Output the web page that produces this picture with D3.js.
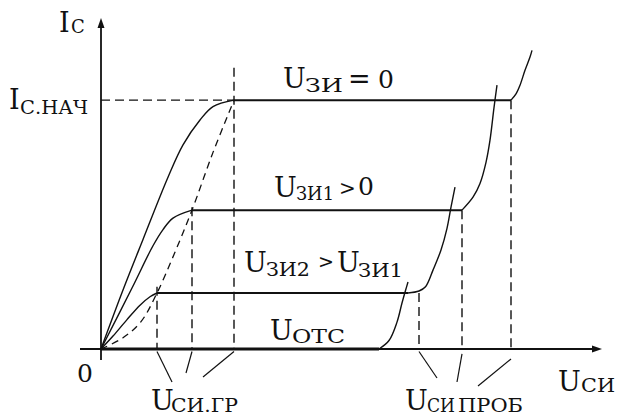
<!DOCTYPE html>
<html>
<head>
<meta charset="utf-8">
<script src="https://cdn.jsdelivr.net/npm/d3@7"></script>
<style>
  html, body { margin: 0; padding: 0; background: #fff; }
  svg { display: block; }
</style>
</head>
<body>
<svg id="chart" width="619" height="419"></svg>
<script>
// Output characteristics of a junction FET: I_C versus U_СИ for several gate voltages.
// Points are [U_СИ, I_С] in relative units (I_С.НАЧ = 100).

// Saturation currents for U_ЗИ = 0, U_ЗИ1 > 0, U_ЗИ2 > U_ЗИ1
const satLevels = [100, 55.8, 22.5];
// Saturation voltages U_СИ.ГР (knee of each curve)
const kneeU = [26.6, 18.2, 11.2];
// Breakdown voltages U_СИ.ПРОБ
const breakU = [82, 72.2, 63.6];

// Ohmic parts, origin to knee
const riseTop = [[0, 0], [4.4, 23.7], [8.4, 44], [13.4, 69], [16.4, 82], [19.8, 92], [22.4, 97.4], [26.6, 100]];
const riseMid = [[0, 0], [6.2, 24.5], [10.4, 41.5], [12.4, 48], [14.4, 52.6], [18.2, 55.8]];
const riseLow = [[0, 0], [2.4, 5.2], [5.2, 11.8], [7.8, 17.6], [9.8, 21], [11.2, 22.5]];
// Breakdown parts, from U_СИ.ПРОБ upward
const breakTop = [[82, 100], [83, 102.5], [83.8, 106], [84.8, 112], [85.8, 117.3], [86.2, 120]];
const breakMid = [[72.2, 55.8], [74.4, 61], [75.8, 66.5], [77, 75], [77.8, 83.9], [78.6, 97], [79.2, 106]];
const breakLow = [[61.4, 22.5], [63.6, 23.3], [64.9, 25], [66.4, 31.7], [68, 39.8], [69.2, 48.5], [70, 57], [70.8, 65]];
// Cut-off curve (U_ЗИ = U_ОТС): zero current, then breakdown
const breakOff = [[55.6, 0], [57.6, 3.4], [59.2, 10.8], [60.2, 18.5], [60.9, 23.5], [61.4, 26.9]];
// Boundary of the saturation region through the knees
const boundary = [[0, 0], [4.4, 4.5], [8, 11], [11.2, 22.5], [14.6, 38], [18.2, 55.8], [22.4, 79], [26.6, 100]];

const svg = d3.select("#chart");
const x = d3.scaleLinear().domain([0, 100]).range([101, 601]);
const y = d3.scaleLinear().domain([0, 133]).range([349, 18]);

const ink = "#111";
const dash = "9,5";
const serif = "DejaVu Serif";

const smooth = d3.line().x(d => x(d[0])).y(d => y(d[1])).curve(d3.curveCatmullRom.alpha(0.5));

// Axes
svg.append("line").attr("x1", x(-4.2)).attr("x2", x(99)).attr("y1", y(0)).attr("y2", y(0))
  .attr("stroke", ink).attr("stroke-width", 1.8);
svg.append("line").attr("x1", x(0)).attr("x2", x(0)).attr("y1", y(-4.4)).attr("y2", y(130))
  .attr("stroke", ink).attr("stroke-width", 1.8);
// Arrowheads
svg.append("path")
  .attr("d", `M${x(100.2)},${y(0)} L${x(100.2) - 10},${y(0) - 3.5} L${x(100.2) - 10},${y(0) + 3.5} Z`)
  .attr("fill", ink);
svg.append("path")
  .attr("d", `M${x(0)},${y(133)} L${x(0) - 3.5},${y(133) + 10} L${x(0) + 3.5},${y(133) + 10} Z`)
  .attr("fill", ink);

// I_C.НАЧ dashed level
svg.append("line").attr("x1", x(0)).attr("x2", x(kneeU[0])).attr("y1", y(satLevels[0])).attr("y2", y(satLevels[0]))
  .attr("stroke", ink).attr("stroke-width", 1.4).attr("stroke-dasharray", dash);

// Dashed verticals at U_СИ.ГР
const grTops = [113, 57, 25];
kneeU.forEach((u, i) => {
  svg.append("line").attr("x1", x(u)).attr("x2", x(u)).attr("y1", y(grTops[i])).attr("y2", y(0))
    .attr("stroke", ink).attr("stroke-width", 1.4).attr("stroke-dasharray", dash);
});
// Dashed verticals at U_СИ.ПРОБ
breakU.forEach((u, i) => {
  svg.append("line").attr("x1", x(u)).attr("x2", x(u)).attr("y1", y(satLevels[i])).attr("y2", y(0))
    .attr("stroke", ink).attr("stroke-width", 1.4).attr("stroke-dasharray", dash);
});

// Saturation boundary
svg.append("path").attr("d", smooth(boundary)).attr("fill", "none")
  .attr("stroke", ink).attr("stroke-width", 1.3).attr("stroke-dasharray", "7,5");

// Ohmic and breakdown parts of each characteristic
[riseTop, riseMid, riseLow, breakTop, breakMid, breakLow, breakOff].forEach(c => {
  svg.append("path").attr("d", smooth(c)).attr("fill", "none")
    .attr("stroke", ink).attr("stroke-width", 1.4);
});
// Saturation plateaus
const plateauEnd = [breakTop[0][0], breakMid[0][0], breakLow[0][0]];
satLevels.forEach((lv, i) => {
  svg.append("line").attr("x1", x(kneeU[i])).attr("x2", x(plateauEnd[i])).attr("y1", y(lv)).attr("y2", y(lv))
    .attr("stroke", ink).attr("stroke-width", 2);
});
// Cut-off current runs along the axis
svg.append("line").attr("x1", x(0)).attr("x2", x(breakOff[0][0])).attr("y1", y(0)).attr("y2", y(0))
  .attr("stroke", ink).attr("stroke-width", 3.2);

// Leader lines from the voltage marks to their labels
const leaders = [
  [[kneeU[2], -1], [172, 382]], [[kneeU[1], -1], [186, 373]], [[kneeU[0], -1], [203, 377]],
  [[breakU[2], -1], [437, 378]], [[breakU[1], -2], [457, 382]], [[breakU[0], -4], [478, 386]]
];
leaders.forEach(([p, q]) => {
  svg.append("line").attr("x1", x(p[0])).attr("y1", y(p[1])).attr("x2", q[0]).attr("y2", q[1])
    .attr("stroke", ink).attr("stroke-width", 1.2);
});

// Labels: main letter plus smaller subscript part
const big = 27, small = 18;
function label(pieces) {
  const t = svg.append("text").attr("font-family", serif).attr("fill", ink);
  pieces.forEach(p => {
    const s = t.append("tspan").attr("x", p[0]).attr("y", p[1]).attr("font-size", p[3]).text(p[2]);
    if (p[4]) s.attr("textLength", p[4]).attr("lengthAdjust", "spacingAndGlyphs");
  });
}
label([[59, 32, "I", big], [71, 33, "С", small]]);
label([[9, 109, "I", big], [20, 114, "С.НАЧ", small, 68]]);
label([[283, 88, "U", big], [305, 92, "ЗИ", small, 38], [348, 88, "=", big], [378, 88, "0", 25]]);
label([[274, 197, "U", big], [296, 200, "ЗИ1", small, 38], [339, 195, ">", 20], [358, 195, "0", 25]]);
label([[244, 272, "U", big], [266, 276, "ЗИ2", small, 44], [318, 268, ">", 19], [337, 272, "U", big], [358, 277, "ЗИ1", small, 45]]);
label([[270, 340, "U", big], [292, 343, "ОТС", small, 53]]);
label([[77, 382, "0", 25]]);
label([[151, 410, "U", big], [171, 412, "СИ.ГР", small, 67]]);
label([[405, 410, "U", big], [427, 412, "СИ", small, 28], [458, 412, "ПРОБ", small, 65]]);
label([[558, 391, "U", big], [581, 392, "СИ", small, 34]]);
</script>
</body>
</html>
